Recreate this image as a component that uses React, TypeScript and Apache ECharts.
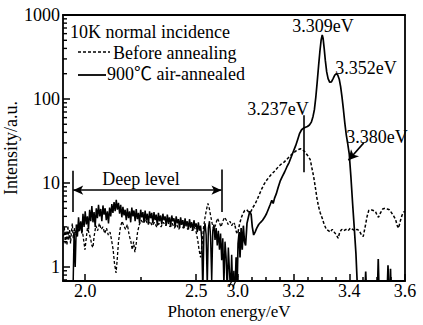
import React, { useEffect, useRef } from "react";
import * as echarts from "echarts";

// ---- axis tick values ----
const leftMajorTicks = [2.0, 2.5];
const leftMinorTicks = [2.25];
const rightMajorTicks = [3.0, 3.2, 3.4, 3.6];
const rightMinorTicks = [3.05, 3.1, 3.15, 3.25, 3.3, 3.35, 3.45, 3.5, 3.55];
const yMinorTicks = [0.7, 0.8, 0.9, 2, 3, 4, 5, 6, 7, 8, 9, 20, 30, 40, 50, 60, 70, 80, 90, 200, 300, 400, 500, 600, 700, 800, 900];

// ---- 900℃ air-annealed, low-energy segment (deep level) ----
const solidLeft: [number, number][] = [
  [1.945, 0.5], [1.95, 2.6], [1.955, 1.0], [1.96, 3.2], [1.965, 2.3], [1.97, 3.9], [1.975, 2.7], [1.98, 3.5],
  [1.985, 2.5], [1.99, 4.3], [1.995, 3.0], [2.0, 4.6], [2.005, 3.2], [2.01, 4.0], [2.015, 2.8], [2.02, 4.8],
  [2.025, 3.5], [2.03, 5.3], [2.035, 3.4], [2.04, 4.5], [2.045, 3.0], [2.05, 5.0], [2.055, 3.8], [2.06, 5.5],
  [2.065, 4.0], [2.07, 4.9], [2.075, 3.5], [2.08, 5.4], [2.085, 4.2], [2.09, 5.0], [2.095, 3.6], [2.1, 4.6],
  [2.105, 3.3], [2.11, 5.1], [2.115, 4.0], [2.12, 5.6], [2.125, 4.4], [2.13, 5.9], [2.135, 4.6], [2.14, 6.3],
  [2.145, 4.8], [2.15, 5.8], [2.155, 4.3], [2.16, 5.5], [2.165, 3.9], [2.17, 5.2], [2.175, 4.1], [2.18, 4.8],
  [2.185, 3.6], [2.19, 5.0], [2.195, 3.8], [2.2, 4.6], [2.205, 3.4], [2.21, 5.1], [2.215, 4.0], [2.22, 4.7],
  [2.225, 3.5], [2.23, 4.9], [2.235, 3.7], [2.24, 4.4], [2.245, 3.3], [2.25, 4.8], [2.255, 3.9], [2.26, 4.5],
  [2.265, 3.4], [2.27, 4.7], [2.275, 3.6], [2.28, 4.3], [2.285, 3.2], [2.29, 4.6], [2.295, 3.8], [2.3, 4.4],
  [2.305, 3.3], [2.31, 4.5], [2.315, 3.6], [2.32, 4.2], [2.325, 3.1], [2.33, 4.4], [2.335, 3.5], [2.34, 4.1],
  [2.345, 3.2], [2.35, 4.3], [2.355, 3.6], [2.36, 4.0], [2.365, 3.1], [2.37, 4.2], [2.375, 3.4], [2.38, 3.9],
  [2.385, 3.0], [2.39, 4.1], [2.395, 3.5], [2.4, 3.8], [2.405, 3.0], [2.41, 4.0], [2.415, 3.3], [2.42, 3.7],
  [2.425, 2.9], [2.43, 3.9], [2.435, 3.2], [2.44, 3.6], [2.445, 2.9], [2.45, 3.8], [2.455, 3.1], [2.46, 3.5],
  [2.465, 2.8], [2.47, 3.7], [2.475, 3.0], [2.48, 3.4], [2.485, 2.7], [2.49, 3.6], [2.495, 3.0], [2.5, 3.3],
  [2.505, 2.6], [2.51, 3.4], [2.515, 2.7], [2.52, 3.1], [2.525, 2.2], [2.53, 0.5], [2.535, 2.6], [2.54, 3.3],
  [2.545, 2.4], [2.55, 0.6], [2.555, 2.9], [2.56, 3.5], [2.565, 2.3], [2.57, 0.7], [2.575, 2.7], [2.58, 3.2],
  [2.585, 2.1], [2.59, 2.9], [2.595, 1.8], [2.6, 2.7], [2.605, 1.6], [2.61, 2.5], [2.615, 1.2], [2.62, 2.2],
  [2.625, 0.6], [2.63, 2.0], [2.635, 1.3], [2.64, 0.5], [2.645, 1.7], [2.65, 0.9], [2.655, 0.5], [2.66, 1.4],
  [2.665, 0.5], [2.67, 0.9], [2.675, 0.5],
];

// ---- 900℃ air-annealed, band-edge segment ----
const solidRight: [number, number][] = [
  [2.99, 0.5], [2.994, 1.3], [2.997, 0.5], [3.001, 1.9], [3.005, 2.6], [3.008, 1.3], [3.012, 2.9], [3.016, 1.6],
  [3.02, 3.1], [3.024, 2.0], [3.028, 1.8], [3.033, 3.3], [3.038, 3.9], [3.043, 4.6], [3.048, 4.2], [3.052, 3.0],
  [3.057, 2.4], [3.062, 2.6], [3.068, 2.9], [3.075, 3.2], [3.082, 3.4], [3.089, 3.6], [3.096, 3.9], [3.103, 4.3],
  [3.11, 4.9], [3.116, 5.5], [3.122, 6.2], [3.127, 5.7], [3.132, 6.6], [3.138, 7.4], [3.145, 8.9], [3.152, 10.5],
  [3.16, 12.0], [3.168, 13.5], [3.176, 15.5], [3.184, 17.5], [3.192, 20.5], [3.2, 24], [3.208, 28], [3.215, 33],
  [3.222, 39], [3.229, 43], [3.236, 45], [3.243, 46], [3.25, 47], [3.257, 49], [3.264, 53], [3.27, 62],
  [3.275, 75], [3.28, 105], [3.285, 160], [3.29, 250], [3.295, 380], [3.299, 500], [3.303, 580], [3.306, 530],
  [3.31, 400], [3.314, 290], [3.319, 210], [3.324, 175], [3.33, 158], [3.336, 160], [3.342, 175], [3.348, 192],
  [3.354, 200], [3.359, 192], [3.364, 172], [3.369, 140], [3.374, 105], [3.379, 75], [3.384, 52], [3.389, 38],
  [3.394, 30], [3.4, 22], [3.406, 11.7], [3.412, 5.7], [3.418, 2.9], [3.424, 1.43], [3.43, 0.5],
  [3.456, 0.5], [3.459, 0.88], [3.462, 0.5], [3.501, 0.5], [3.504, 1.24], [3.507, 0.5], [3.536, 0.5],
  [3.539, 1.05], [3.542, 0.5], [3.546, 0.5], [3.548, 0.95], [3.55, 0.5], [3.6, 0.5],
];

// ---- Before annealing, low-energy segment ----
const dashedLeft: [number, number][] = [
  [1.902, 2.3], [1.906, 3.0], [1.91, 1.9], [1.914, 2.7], [1.918, 1.8], [1.922, 3.1], [1.926, 2.1], [1.93, 2.8],
  [1.934, 1.9], [1.938, 2.6], [1.942, 3.3], [1.946, 2.2], [1.952, 2.9], [1.958, 2.4], [1.965, 3.2], [1.972, 2.6],
  [1.98, 3.4], [1.988, 2.6], [1.994, 2.0], [1.999, 1.6], [2.004, 2.1], [2.01, 2.9], [2.018, 2.5], [2.024, 2.2],
  [2.03, 1.8], [2.035, 1.7], [2.04, 2.3], [2.048, 3.1], [2.056, 2.7], [2.064, 3.3], [2.072, 2.8], [2.08, 3.0],
  [2.088, 2.5], [2.096, 2.9], [2.104, 2.4], [2.112, 2.6], [2.12, 2.0], [2.126, 1.6], [2.132, 1.1], [2.139, 0.85],
  [2.144, 1.2], [2.15, 2.0], [2.158, 2.9], [2.166, 3.5], [2.174, 3.1], [2.182, 2.8], [2.19, 3.2], [2.198, 2.4],
  [2.206, 2.0], [2.212, 1.6], [2.218, 2.0], [2.224, 1.5], [2.23, 1.9], [2.236, 2.6], [2.244, 3.2], [2.252, 3.6],
  [2.262, 3.3], [2.272, 3.7], [2.282, 3.2], [2.292, 3.5], [2.302, 3.1], [2.312, 3.4], [2.322, 3.0], [2.332, 3.3],
  [2.342, 3.0], [2.352, 3.4], [2.362, 3.1], [2.372, 3.5], [2.382, 3.0], [2.392, 3.3], [2.402, 2.9], [2.412, 3.2],
  [2.422, 2.8], [2.432, 3.3], [2.442, 2.9], [2.452, 3.2], [2.462, 2.8], [2.472, 3.1], [2.482, 2.7], [2.492, 3.0],
  [2.5, 2.6], [2.507, 2.1], [2.513, 1.6], [2.52, 1.3], [2.527, 1.9], [2.533, 2.9], [2.54, 3.9], [2.547, 4.9],
  [2.553, 5.7], [2.559, 5.0], [2.565, 4.1], [2.572, 3.3], [2.58, 2.8], [2.588, 3.2], [2.596, 3.8], [2.604, 3.4],
  [2.612, 3.0], [2.62, 3.5], [2.628, 3.9], [2.636, 3.6], [2.644, 3.2], [2.652, 3.5], [2.66, 3.1], [2.668, 3.4],
  [2.675, 3.2],
];

// ---- Before annealing, band-edge segment ----
const dashedRight: [number, number][] = [
  [2.99, 3.1], [2.995, 2.6], [3.0, 2.5], [3.006, 3.2], [3.012, 3.8], [3.018, 4.3], [3.025, 4.7], [3.032, 4.8],
  [3.039, 4.5], [3.046, 4.5], [3.054, 5.1], [3.062, 5.6], [3.07, 6.4], [3.078, 7.4], [3.086, 8.5], [3.094, 9.6],
  [3.102, 10.6], [3.111, 11.6], [3.12, 12.6], [3.129, 13.5], [3.138, 14.6], [3.147, 15.8], [3.156, 16.8],
  [3.165, 17.6], [3.174, 18.8], [3.183, 20.2], [3.192, 21.6], [3.201, 23.0], [3.21, 24.2], [3.218, 25.0],
  [3.225, 25.5], [3.232, 25.0], [3.24, 23.6], [3.248, 21.8], [3.254, 20.5], [3.26, 19.0], [3.266, 15.0],
  [3.272, 12.0], [3.278, 9.0], [3.284, 6.6], [3.29, 5.2], [3.296, 4.4], [3.303, 3.8], [3.31, 3.2], [3.318, 2.8],
  [3.325, 2.7], [3.332, 2.6], [3.339, 2.8], [3.346, 2.6], [3.354, 2.4], [3.36, 2.2], [3.366, 2.6], [3.373, 2.8],
  [3.38, 2.7], [3.388, 2.8], [3.396, 2.7], [3.404, 2.9], [3.412, 2.8], [3.42, 2.7], [3.428, 2.8], [3.436, 2.7],
  [3.444, 2.4], [3.45, 2.3], [3.457, 3.0], [3.464, 4.0], [3.47, 4.7], [3.478, 4.8], [3.486, 4.7], [3.494, 4.6],
  [3.5, 4.1], [3.505, 3.9], [3.512, 4.4], [3.52, 4.9], [3.528, 5.0], [3.536, 4.9], [3.544, 4.8], [3.552, 4.4],
  [3.56, 4.0], [3.566, 3.7], [3.572, 3.1], [3.577, 2.9], [3.583, 3.5], [3.589, 4.1], [3.595, 4.5], [3.6, 4.6],
];

const FONT = '"Liberation Serif", "Times New Roman", "Noto Sans CJK SC", serif';
const BLACK = "#000";

export default function App() {
  const ref = useRef<HTMLDivElement>(null);

  useEffect(() => {
    if (!ref.current) return;
    const chart = echarts.init(ref.current, undefined, { renderer: "svg" });

    const labelStyle = { fontFamily: FONT, fontSize: 18, color: BLACK };
    const axisLine = { show: true, lineStyle: { color: BLACK, width: 1.8 } };

    const xBase = (grid: number, min: number, max: number) => ({
      type: "value" as const,
      gridIndex: grid,
      min,
      max,
      splitLine: { show: false },
    });

    const option: any = {
      animation: false,
      backgroundColor: "#fff",
      grid: [
        { left: 63, top: 15, width: 172, height: 266 },
        { left: 235, top: 15, width: 170, height: 266 },
      ],
      xAxis: [
        {
          ...xBase(0, 1.9, 2.675),
          position: "bottom",
          axisLine,
          axisTick: { show: true, inside: true, length: 7, customValues: leftMajorTicks, lineStyle: { color: BLACK, width: 1.5 } },
          axisLabel: { ...labelStyle, margin: 1, customValues: leftMajorTicks, formatter: (v: number) => v.toFixed(1) },
        },
        {
          ...xBase(0, 1.9, 2.675),
          position: "bottom",
          axisLine: { show: false },
          axisTick: { show: true, inside: true, length: 4, customValues: leftMinorTicks, lineStyle: { color: BLACK, width: 1.5 } },
          axisLabel: { show: false },
        },
        {
          ...xBase(0, 1.9, 2.675),
          position: "top",
          axisLine,
          axisTick: { show: false },
          axisLabel: { show: false },
        },
        {
          ...xBase(1, 2.99, 3.6),
          position: "bottom",
          axisLine,
          axisTick: { show: true, inside: true, length: 7, customValues: rightMajorTicks, lineStyle: { color: BLACK, width: 1.5 } },
          axisLabel: { ...labelStyle, margin: 1, customValues: rightMajorTicks, formatter: (v: number) => v.toFixed(1) },
        },
        {
          ...xBase(1, 2.99, 3.6),
          position: "bottom",
          axisLine: { show: false },
          axisTick: { show: true, inside: true, length: 4, customValues: rightMinorTicks, lineStyle: { color: BLACK, width: 1.5 } },
          axisLabel: { show: false },
        },
        {
          ...xBase(1, 2.99, 3.6),
          position: "top",
          axisLine,
          axisTick: { show: false },
          axisLabel: { show: false },
        },
      ],
      yAxis: [
        {
          type: "log",
          logBase: 10,
          gridIndex: 0,
          min: 0.68,
          max: 1000,
          position: "left",
          axisLine,
          splitLine: { show: false },
          axisTick: { show: true, inside: true, length: 7, lineStyle: { color: BLACK, width: 1.5 } },
          axisLabel: {
            ...labelStyle,
            margin: 3,
            showMinLabel: false,
            formatter: (v: number) => (v >= 1 ? String(Math.round(v)) : ""),
          },
          name: "Intensity/a.u.",
          nameLocation: "middle",
          nameGap: 31,
          nameTextStyle: { fontFamily: FONT, fontSize: 18, color: BLACK },
        },
        {
          type: "log",
          logBase: 10,
          gridIndex: 1,
          min: 0.68,
          max: 1000,
          position: "right",
          axisLine,
          splitLine: { show: false },
          axisTick: { show: false },
          axisLabel: { show: false },
        },
      ],
      series: [
        {
          name: "Before annealing",
          type: "line",
          xAxisIndex: 0,
          yAxisIndex: 0,
          data: dashedLeft,
          symbol: "none",
          lineStyle: { color: BLACK, width: 1.3, type: [3, 2] },
          z: 2,
        },
        {
          name: "900℃ air-annealed",
          type: "line",
          xAxisIndex: 0,
          yAxisIndex: 0,
          data: solidLeft,
          symbol: "none",
          lineStyle: { color: BLACK, width: 1.5 },
          z: 3,
          markLine: {
            silent: true,
            symbol: ["none", "none"],
            label: { show: false },
            lineStyle: { color: BLACK, width: 1.6, type: "solid" },
            data: [
              [{ coord: [1.946, 4.5] }, { coord: [1.946, 14] }],
              [{ coord: [2.614, 4.5] }, { coord: [2.614, 14.5] }],
              [
                { coord: [1.946, 8.2], symbol: "arrow", symbolSize: [7, 10] },
                { coord: [2.614, 8.2], symbol: "arrow", symbolSize: [7, 10] },
              ],
            ],
          },
        },
        {
          name: "Before annealing",
          type: "line",
          xAxisIndex: 3,
          yAxisIndex: 1,
          data: dashedRight,
          symbol: "none",
          lineStyle: { color: BLACK, width: 1.5, type: [3, 2] },
          z: 2,
        },
        {
          name: "900℃ air-annealed",
          type: "line",
          xAxisIndex: 3,
          yAxisIndex: 1,
          data: solidRight,
          symbol: "none",
          lineStyle: { color: BLACK, width: 1.7 },
          z: 3,
          markLine: {
            silent: true,
            symbol: ["none", "none"],
            label: { show: false },
            lineStyle: { color: BLACK, width: 1.6, type: "solid" },
            data: [
              [{ coord: [3.237, 64] }, { coord: [3.237, 13.4] }],
              [
                { coord: [3.452, 30], symbol: "none" },
                { coord: [3.397, 18.6], symbol: "arrow", symbolSize: [8, 10] },
              ],
            ],
          },
        },
        {
          name: "yMinorTicks",
          type: "custom",
          xAxisIndex: 0,
          yAxisIndex: 0,
          silent: true,
          data: yMinorTicks.map((v) => [1.9, v]),
          renderItem: (_p: any, api: any) => {
            const pt = api.coord([api.value(0), api.value(1)]);
            return {
              type: "line",
              shape: { x1: pt[0], y1: pt[1], x2: pt[0] + 4, y2: pt[1] },
              style: { stroke: BLACK, lineWidth: 1.4 },
            };
          },
          z: 5,
        },
      ],
      graphic: [
        { type: "text", x: 70, y: 32, style: { text: "10K normal incidence", font: `18px ${FONT}`, fill: BLACK, textAlign: "left", textVerticalAlign: "middle" } },
        { type: "line", shape: { x1: 78, y1: 52, x2: 110, y2: 52 }, style: { stroke: BLACK, lineWidth: 1.3, lineDash: [3, 2] } },
        { type: "text", x: 113, y: 53, style: { text: "Before annealing", font: `18px ${FONT}`, fill: BLACK, textAlign: "left", textVerticalAlign: "middle" } },
        { type: "line", shape: { x1: 78, y1: 75, x2: 106, y2: 75 }, style: { stroke: BLACK, lineWidth: 1.8 } },
        { type: "text", x: 107, y: 74, style: { text: "900℃ air-annealed", font: `18px ${FONT}`, fill: BLACK, textAlign: "left", textVerticalAlign: "middle" } },
        { type: "text", x: 323, y: 26, style: { text: "3.309eV", font: `18px ${FONT}`, fill: BLACK, textAlign: "center", textVerticalAlign: "middle" } },
        { type: "text", x: 366, y: 68, style: { text: "3.352eV", font: `18px ${FONT}`, fill: BLACK, textAlign: "center", textVerticalAlign: "middle" } },
        { type: "text", x: 278, y: 109, style: { text: "3.237eV", font: `18px ${FONT}`, fill: BLACK, textAlign: "center", textVerticalAlign: "middle" } },
        { type: "text", x: 377, y: 137, style: { text: "3.380eV", font: `18px ${FONT}`, fill: BLACK, textAlign: "center", textVerticalAlign: "middle" } },
        { type: "text", x: 141, y: 179, style: { text: "Deep level", font: `18px ${FONT}`, fill: BLACK, textAlign: "center", textVerticalAlign: "middle" } },
        { type: "text", x: 229, y: 311, style: { text: "Photon energy/eV", font: `17px ${FONT}`, fill: BLACK, textAlign: "center", textVerticalAlign: "middle" } },
        { type: "line", shape: { x1: 229, y1: 287, x2: 234, y2: 276 }, style: { stroke: BLACK, lineWidth: 1.2 } },
        { type: "line", shape: { x1: 233, y1: 287, x2: 238, y2: 276 }, style: { stroke: BLACK, lineWidth: 1.2 } },
      ],
    };

    chart.setOption(option);
    return () => chart.dispose();
  }, []);

  return (
    <div
      ref={ref}
      style={{ position: "absolute", left: 0, top: 0, width: 423, height: 325, background: "#fff" }}
    />
  );
}
